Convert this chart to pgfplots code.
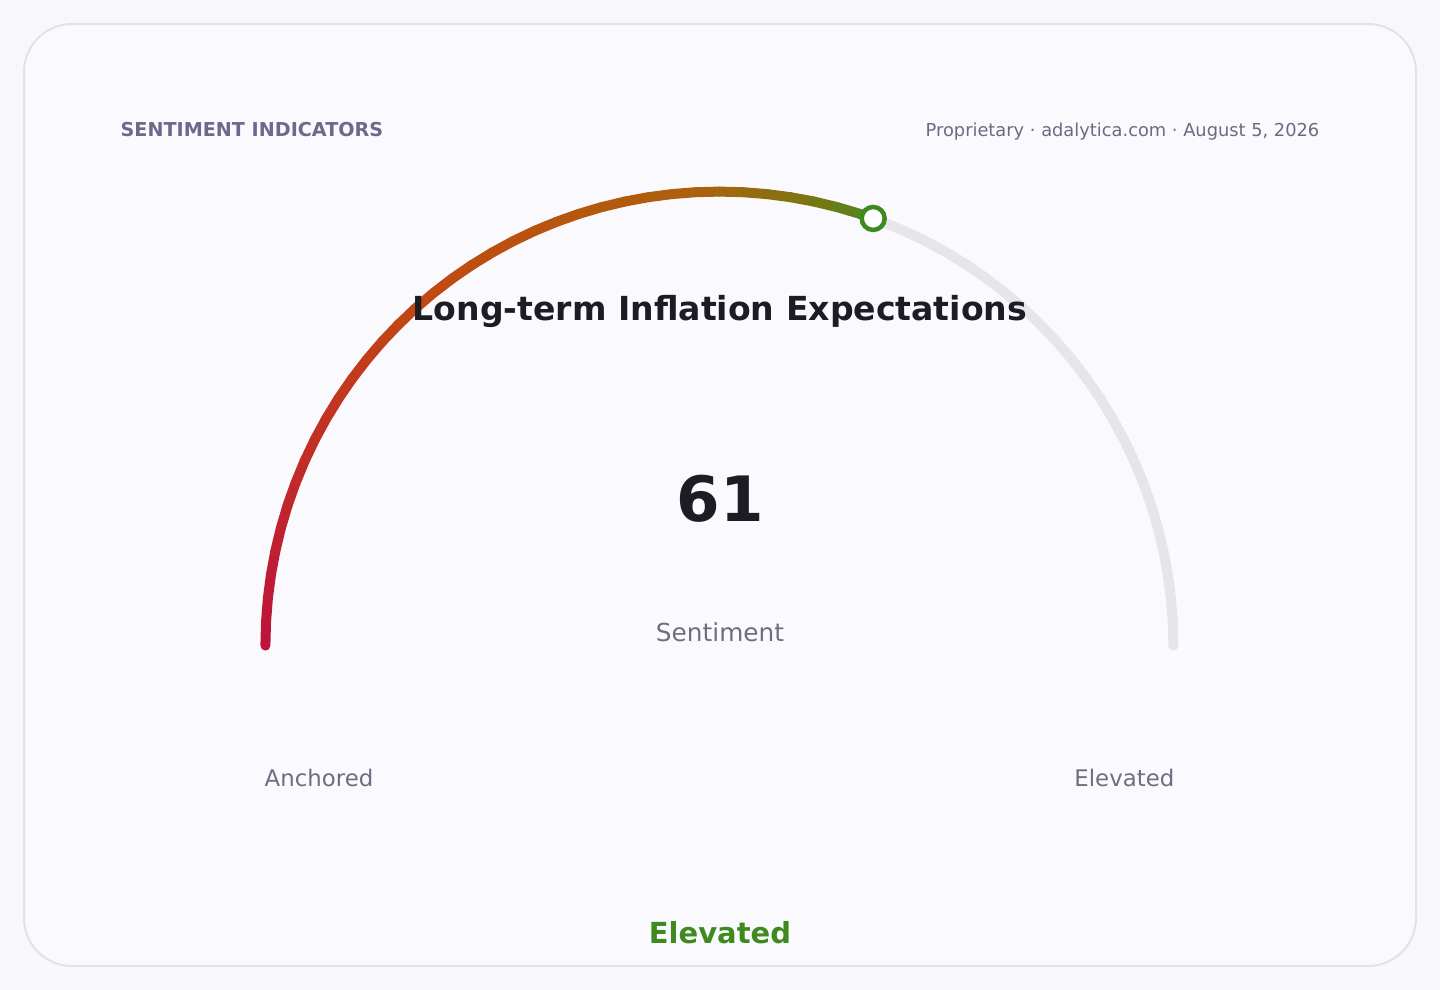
\documentclass[border=0pt]{standalone}
\usepackage{pgfplots}
\pgfplotsset{compat=1.18}
\usepackage{fontspec}
\setmainfont{DejaVu Sans}

\definecolor{pagebg}{HTML}{F8F8FC}
\definecolor{cardbg}{HTML}{FAFAFE}
\definecolor{cardline}{HTML}{E2E2EE}
\definecolor{track}{HTML}{E6E6EA}
\definecolor{headgray}{HTML}{6B6A8A}
\definecolor{metagray}{HTML}{6B6B80}
\definecolor{labelgray}{HTML}{6E6E80}
\definecolor{titleink}{HTML}{1C1C24}
\definecolor{okgreen}{HTML}{3F8A1F}

% gauge value: 61 of 100 -> angle 180 - 1.8*61 = 70.2
\begin{document}
\begin{tikzpicture}
\fill[pagebg] (0,0) rectangle (14.4,9.9);
\useasboundingbox (0,0) rectangle (14.4,9.9);
\draw[cardline, fill=cardbg, line width=0.2mm, rounded corners=0.48cm]
  (0.24,0.24) rectangle (14.16,9.66);

% axis box (-1.2,-0.2)..(1.2,1.2), centre of the dial at (7.2,3.47)
\begin{axis}[
    at={(1.746cm,2.536cm)}, anchor=south west,
    x=4.54cm, y=4.54cm,
    xmin=-1.2, xmax=1.2, ymin=-0.2, ymax=1.2,
    hide axis, clip=false,
    colormap={gauge}{rgb255(0)=(77,138,31) rgb255(7)=(122,117,18)
      rgb255(20)=(172,98,12) rgb255(55)=(194,72,18) rgb255(100)=(190,18,60)},
    point meta min=70.2, point meta max=180,
]
% grey track (rest of the scale)
\addplot[data cs=polar, track, line width=1.0mm, line cap=round] coordinates {
  (70.2,1) (69,1) (66,1) (63,1) (60,1) (57,1) (54,1) (51,1) (48,1) (45,1)
  (42,1) (39,1) (36,1) (33,1) (30,1) (27,1) (24,1) (21,1) (18,1) (15,1)
  (12,1) (9,1) (6,1) (3,1) (0,1)
};
% filled part, coloured along the arc
\addplot[data cs=polar, mesh, point meta=explicit, line width=1.0mm, line cap=round] coordinates {
  (180,1) [180] (177,1) [177] (174,1) [174] (171,1) [171] (168,1) [168]
  (165,1) [165] (162,1) [162] (159,1) [159] (156,1) [156] (153,1) [153]
  (150,1) [150] (147,1) [147] (144,1) [144] (141,1) [141] (138,1) [138]
  (135,1) [135] (132,1) [132] (129,1) [129] (126,1) [126] (123,1) [123]
  (120,1) [120] (117,1) [117] (114,1) [114] (111,1) [111] (108,1) [108]
  (105,1) [105] (102,1) [102] (99,1) [99] (96,1) [96] (93,1) [93]
  (90,1) [90] (87,1) [87] (84,1) [84] (81,1) [81] (78,1) [78]
  (75,1) [75] (72,1) [72] (70.2,1) [70.2]
};
% value marker
\addplot[data cs=polar, only marks, mark=*, mark size=1.15mm,
  mark options={draw=okgreen, fill=white, line width=0.45mm}] coordinates {(70.2,1)};
\end{axis}

\node[anchor=base west, inner sep=0, text=headgray, font=\fontsize{5.45pt}{6pt}\selectfont\bfseries]
  at (1.20,8.53) {SENTIMENT INDICATORS};
\node[anchor=base east, inner sep=0, text=metagray, font=\fontsize{5.07pt}{6pt}\selectfont]
  at (13.20,8.53) {Proprietary · adalytica.com · August 5, 2026};
\node[anchor=base, inner sep=0, text=titleink, font=\fontsize{9.42pt}{11pt}\selectfont\bfseries]
  at (7.2,6.69) {Long-term Inflation Expectations};
\node[anchor=base, inner sep=0, text=titleink, font=\fontsize{17.8pt}{20pt}\selectfont\bfseries]
  at (7.2,4.68) {61};
\node[anchor=base, inner sep=0, text=labelgray, font=\fontsize{7.05pt}{9pt}\selectfont]
  at (7.2,3.48) {Sentiment};
\node[anchor=base west, inner sep=0, text=labelgray, font=\fontsize{6.5pt}{8pt}\selectfont]
  at (2.64,2.03) {Anchored};
\node[anchor=base east, inner sep=0, text=labelgray, font=\fontsize{6.5pt}{8pt}\selectfont]
  at (11.75,2.03) {Elevated};
\node[anchor=base, inner sep=0, text=okgreen, font=\fontsize{8.25pt}{10pt}\selectfont\bfseries]
  at (7.2,0.46) {Elevated};
\end{tikzpicture}
\end{document}
